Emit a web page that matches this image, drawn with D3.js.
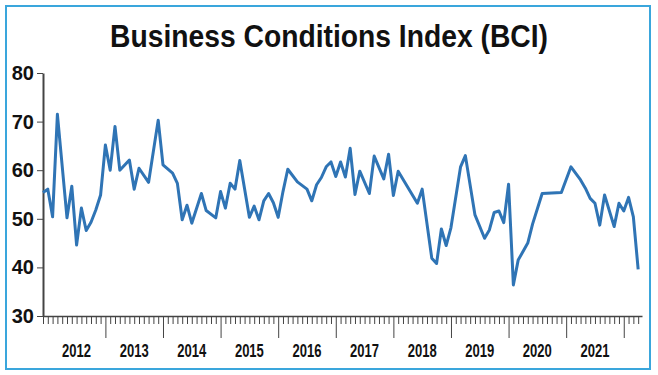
<!DOCTYPE html>
<html>
<head>
<meta charset="utf-8">
<script src="https://cdn.jsdelivr.net/npm/d3@7"></script>
<style>
  body { margin: 0; background: #fff; }
  text { font-family: "Liberation Sans Narrow", "Liberation Sans", sans-serif; }
</style>
</head>
<body>
<div id="chart"></div>
<script>
// month index (0 = first month shown) and BCI value
var months = [0, 1, 2, 3, 5, 6, 7, 8, 9, 10, 11, 12, 13, 14, 15, 16, 18, 19, 20, 22,
  24, 25, 27, 28, 29, 30, 31, 33, 34, 36, 37, 38, 39, 40, 41, 43, 44, 45, 46, 47,
  48, 49, 50, 51, 53, 55, 56, 57, 58, 59, 60, 61, 62, 63, 64, 65, 66, 68, 69, 71,
  72, 73, 74, 78, 79, 81, 82, 83, 84, 85, 87, 88, 90, 92, 93, 94, 95, 96, 97, 98,
  99, 101, 102, 104, 108, 110, 112, 113, 114, 115, 116, 117, 119, 120, 121, 122, 123, 124];
var bci = [55.4, 56.1, 50.4, 71.5, 50.2, 56.7, 44.6, 52.2, 47.6, 49.3, 51.8, 54.9, 65.2, 60.0, 69.0, 60.0, 62.1, 56.1, 60.4, 57.5,
  70.3, 61.1, 59.4, 57.3, 49.8, 52.8, 49.1, 55.2, 51.7, 50.2, 55.6, 52.2, 57.3, 56.1, 62.0, 50.3, 52.6, 49.8, 53.7, 55.2,
  53.3, 50.3, 55.6, 60.2, 57.6, 56.1, 53.7, 57.0, 58.5, 60.7, 61.7, 58.7, 61.7, 58.6, 64.5, 55.0, 59.8, 55.2, 62.9, 58.2,
  63.3, 54.8, 59.8, 53.2, 56.1, 41.9, 40.8, 47.9, 44.5, 48.2, 60.7, 63.0, 50.8, 46.0, 47.7, 51.3, 51.6, 49.2, 57.1, 36.4,
  41.5, 45.0, 48.9, 55.2, 55.4, 60.7, 58.0, 56.3, 54.2, 53.2, 48.7, 54.9, 48.4, 53.2, 51.6, 54.4, 50.4, 39.6];

var years = ["2012", "2013", "2014", "2015", "2016", "2017", "2018", "2019", "2020", "2021"];
var yTicks = [30, 40, 50, 60, 70, 80];

var W = 658, H = 375;
var margin = { top: 73, right: 16, bottom: 59, left: 43 },
    width = W - margin.left - margin.right,
    height = H - margin.top - margin.bottom;

var svg = d3.select("#chart")
  .append("svg")
    .attr("width", W)
    .attr("height", H);

// frame
svg.append("rect")
    .attr("x", 6).attr("y", 6)
    .attr("width", 644).attr("height", 363)
    .attr("fill", "none")
    .attr("stroke", "#3aa6dc")
    .attr("stroke-width", 2);

// title
svg.append("text")
    .attr("x", W / 2)
    .attr("y", 47)
    .attr("text-anchor", "middle")
    .attr("font-size", 32)
    .attr("font-weight", "bold")
    .attr("fill", "#111")
    .attr("textLength", 438)
    .attr("lengthAdjust", "spacingAndGlyphs")
    .text("Business Conditions Index (BCI)");

var g = svg.append("g")
    .attr("transform", "translate(" + margin.left + "," + margin.top + ")");

var x = d3.scaleLinear().domain([0, 124.8]).range([0, width]);
var y = d3.scaleLinear().domain([30, 80]).range([height, 0]);

// x axis: monthly minor ticks, year boundary major ticks
var monthTicks = d3.range(0, 125);
g.append("g")
    .attr("transform", "translate(0," + height + ")")
    .call(d3.axisBottom(x).tickValues(monthTicks).tickSize(8).tickFormat("").tickSizeOuter(0))
    .call(function (a) {
      a.select(".domain").attr("stroke", "#444").attr("stroke-width", 1.5);
      a.selectAll(".tick line")
        .attr("stroke", "#444")
        .attr("y2", function (d) { return (d - 1) % 12 === 0 && d > 1 ? 22 : 8; });
    });

g.append("g")
  .selectAll("text")
  .data(years)
  .enter().append("text")
    .attr("x", function (d, i) { return x(7 + i * 12); })
    .attr("y", height + 41)
    .attr("text-anchor", "middle")
    .attr("font-size", 19)
    .attr("font-weight", "bold")
    .attr("fill", "#111")
    .attr("textLength", 29)
    .attr("lengthAdjust", "spacingAndGlyphs")
    .text(function (d) { return d; });

// y axis
g.append("g")
    .call(d3.axisLeft(y).tickValues(yTicks).tickSize(6).tickPadding(3).tickSizeOuter(0))
    .call(function (a) {
      a.select(".domain").attr("stroke", "#444").attr("stroke-width", 2);
      a.selectAll(".tick line").attr("stroke", "#444");
      a.selectAll(".tick text")
        .attr("font-size", 20)
        .attr("font-weight", "bold")
        .attr("fill", "#111")
        .attr("font-family", "Liberation Sans Narrow, sans-serif");
    });

// line
var points = months.map(function (m, i) { return { m: m, v: bci[i] }; });
g.append("path")
    .datum(points)
    .attr("fill", "none")
    .attr("stroke", "#2f74b5")
    .attr("stroke-width", 3)
    .attr("stroke-linejoin", "round")
    .attr("d", d3.line()
      .x(function (d) { return x(d.m); })
      .y(function (d) { return y(d.v); }));
</script>
</body>
</html>
